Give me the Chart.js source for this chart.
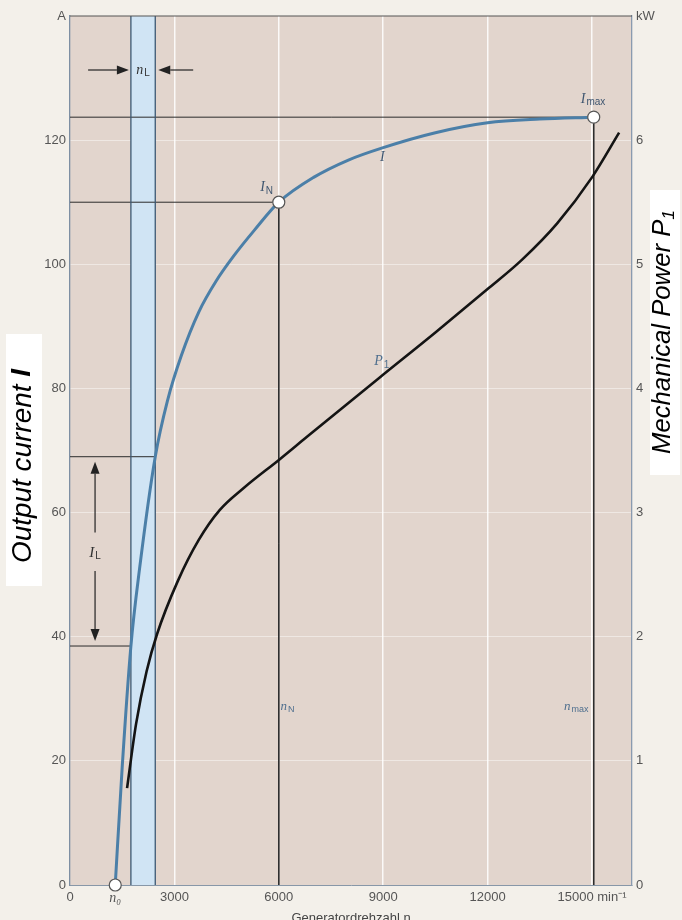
<!DOCTYPE html>
<html><head><meta charset="utf-8">
<script src="https://cdn.jsdelivr.net/npm/chart.js@4/dist/chart.umd.min.js"></script>
<style>
html,body{margin:0;padding:0;background:#f3f0ea;overflow:hidden;}
#wrap{width:682px;height:930px;position:relative;}
canvas{display:block;}
</style></head><body>
<div id="wrap"><canvas id="c" width="682" height="930"></canvas></div>
<script>
// ---- data ----
const xTickValues = [0, 1300, 3000, 6000, 9000, 12000, 15000];
const rpmI = [1300, 1500, 1750, 2000, 2450, 2800, 3200, 3700, 4200, 4700, 5300, 6000, 7000, 8000, 9000, 10500, 12000, 13500, 15050];
const currentA = [0, 19, 38.5, 51, 69, 78, 85.3, 92.3, 97.3, 101.3, 105.5, 110, 114, 116.8, 118.8, 121.2, 122.8, 123.4, 123.7];
const rpmP = [1640, 1900, 2200, 2500, 3100, 3700, 4300, 5000, 6030, 6810, 8910, 10500, 12000, 13000, 14000, 15000, 15780];
const powerKW = [0.78, 1.30, 1.72, 2.02, 2.45, 2.78, 3.02, 3.20, 3.43, 3.61, 4.09, 4.45, 4.80, 5.04, 5.33, 5.70, 6.06];
const bandRpm = [1750, 2450];          // n_L range
const idleCurrent = [38.5, 69];       // I_L range
const n0 = 1300;
const nominalPoint = [6000, 110];     // n_N, I_N
const maxPoint = [15050, 123.7];      // n_max, I_max

const xy = (xs, ys) => xs.map((x, i) => ({x, y: ys[i]}));

const refLine = (pts, color, w) => ({
  data: pts, borderColor: color, borderWidth: w, pointRadius: 0, tension: 0,
  fill: false, order: 5
});

const datasets = [
  { data: [{x: bandRpm[0], y: 140}, {x: bandRpm[1], y: 140}], fill: 'origin',
    backgroundColor: '#d0e4f4', borderWidth: 0, pointRadius: 0, order: 20 },
  refLine([{x: bandRpm[0], y: 0}, {x: bandRpm[0], y: 140}], '#3c5873', 1.3),
  refLine([{x: bandRpm[1], y: 0}, {x: bandRpm[1], y: 140}], '#3c5873', 1.3),
  refLine([{x: 0, y: idleCurrent[0]}, {x: bandRpm[0], y: idleCurrent[0]}], '#2b2b2b', 1),
  refLine([{x: 0, y: idleCurrent[1]}, {x: bandRpm[1], y: idleCurrent[1]}], '#2b2b2b', 1),
  refLine([{x: 0, y: nominalPoint[1]}, {x: nominalPoint[0], y: nominalPoint[1]}, {x: nominalPoint[0], y: 0}], '#2b2b2b', 1),
  refLine([{x: 0, y: maxPoint[1]}, {x: maxPoint[0], y: maxPoint[1]}, {x: maxPoint[0], y: 0}], '#2b2b2b', 1),
  { data: xy(rpmP, powerKW), yAxisID: 'y1', borderColor: '#141414', borderWidth: 2.6,
    pointRadius: 0, cubicInterpolationMode: 'monotone', fill: false, order: 2 },
  { data: xy(rpmI, currentA), borderColor: '#4b7fa8', borderWidth: 3,
    pointRadius: 0, cubicInterpolationMode: 'monotone', fill: false, order: 1 },
  { data: [{x: n0, y: 0}, {x: nominalPoint[0], y: nominalPoint[1]}, {x: maxPoint[0], y: maxPoint[1]}],
    showLine: false, pointRadius: 6, pointBackgroundColor: '#ffffff', pointBorderColor: '#555',
    pointBorderWidth: 1.2, clip: false, order: 0 }
];

const FS = '"Liberation Sans", Arial, sans-serif';
const SERIF = '"Liberation Serif", "DejaVu Serif", serif';

function label(ctx, x, y, main, sub, color, size) {
  ctx.save();
  ctx.fillStyle = color;
  ctx.textBaseline = 'middle';
  ctx.font = `italic ${size}px ${SERIF}`;
  const w1 = ctx.measureText(main).width;
  ctx.font = `${Math.round(size * 0.68)}px ${FS}`;
  const w2 = sub ? ctx.measureText(sub).width : 0;
  let sx = x - (w1 + w2 + 1) / 2;
  ctx.font = `italic ${size}px ${SERIF}`;
  ctx.textAlign = 'left';
  ctx.fillText(main, sx, y);
  if (sub) {
    ctx.font = `${Math.round(size * 0.68)}px ${FS}`;
    ctx.fillText(sub, sx + w1 + 1, y + size * 0.25);
  }
  ctx.restore();
}

function arrow(ctx, x1, y1, x2, y2) {
  const ang = Math.atan2(y2 - y1, x2 - x1);
  const L = 12, W = 4.5;
  ctx.save();
  ctx.strokeStyle = '#222'; ctx.fillStyle = '#222'; ctx.lineWidth = 1.2;
  ctx.beginPath(); ctx.moveTo(x1, y1);
  ctx.lineTo(x2 - Math.cos(ang) * L, y2 - Math.sin(ang) * L); ctx.stroke();
  ctx.beginPath(); ctx.moveTo(x2, y2);
  ctx.lineTo(x2 - Math.cos(ang) * L - Math.sin(ang) * W, y2 - Math.sin(ang) * L + Math.cos(ang) * W);
  ctx.lineTo(x2 - Math.cos(ang) * L + Math.sin(ang) * W, y2 - Math.sin(ang) * L - Math.cos(ang) * W);
  ctx.closePath(); ctx.fill();
  ctx.restore();
}

function sideTitle(ctx, cx, cy, parts, targetLen) {
  ctx.save();
  ctx.translate(cx, cy);
  ctx.rotate(-Math.PI / 2);
  ctx.fillStyle = '#000';
  ctx.textBaseline = 'middle';
  ctx.textAlign = 'left';
  let total = 0;
  const ws = parts.map(p => { ctx.font = p.font; const w = ctx.measureText(p.t).width; total += w; return w; });
  const k = targetLen / total;
  ctx.scale(k, 1);
  let sx = -total / 2;
  parts.forEach((p, i) => { ctx.font = p.font; ctx.fillText(p.t, sx, p.dy || 0); sx += ws[i]; });
  ctx.restore();
}

const bgPlugin = {
  id: 'bg',
  beforeDraw(chart) {
    const {ctx, chartArea: a} = chart;
    ctx.save();
    ctx.fillStyle = '#f3f0ea';
    ctx.fillRect(0, 0, chart.width, chart.height);
    ctx.fillStyle = '#e2d5cd';
    ctx.fillRect(a.left, a.top, a.right - a.left, a.bottom - a.top);
    ctx.restore();
  }
};

const annPlugin = {
  id: 'ann',
  afterDatasetsDraw(chart) {
    const {ctx, scales: {x, y}, chartArea: a} = chart;
    ctx.save();
    ctx.strokeStyle = '#555'; ctx.lineWidth = 1.2;
    ctx.beginPath(); ctx.moveTo(a.left, a.top); ctx.lineTo(a.right, a.top); ctx.stroke();
    ctx.restore();
    const ay = y.getPixelForValue(131.3);
    arrow(ctx, x.getPixelForValue(520), ay, x.getPixelForValue(bandRpm[0]) - 2, ay);
    arrow(ctx, x.getPixelForValue(3540), ay, x.getPixelForValue(bandRpm[1]) + 3, ay);
    label(ctx, x.getPixelForValue((bandRpm[0] + bandRpm[1]) / 2), ay, 'n', 'L', '#333', 14);
    const ax = x.getPixelForValue(720);
    arrow(ctx, ax, y.getPixelForValue(56.8), ax, y.getPixelForValue(idleCurrent[1]) + 5);
    arrow(ctx, ax, y.getPixelForValue(50.6), ax, y.getPixelForValue(idleCurrent[0]) - 5);
    label(ctx, ax, y.getPixelForValue(53.5), 'I', 'L', '#333', 15);
    const lc = '#4f6f8e';
    label(ctx, x.getPixelForValue(5650), y.getPixelForValue(112.4), 'I', 'N', '#3f5670', 14);
    label(ctx, x.getPixelForValue(8990), y.getPixelForValue(117.3), 'I', '', '#3f5670', 14);
    label(ctx, x.getPixelForValue(15030), y.getPixelForValue(126.6), 'I', 'max', '#3f5670', 14);
    label(ctx, x.getPixelForValue(8960), y.getPixelForValue(84.3), 'P', '1', lc, 14);
    label(ctx, x.getPixelForValue(6250), y.getPixelForValue(28.8), 'n', 'N', lc, 13);
    label(ctx, x.getPixelForValue(14550), y.getPixelForValue(28.8), 'n', 'max', lc, 13);
  },
  afterDraw(chart) {
    const {ctx} = chart;
    ctx.save();
    ctx.fillStyle = '#ffffff';
    ctx.fillRect(6, 334, 36, 252);
    ctx.fillRect(650, 190, 30, 285);
    ctx.restore();
    sideTitle(ctx, 23, 466, [
      {t: 'Output current ', font: `italic 27px ${FS}`},
      {t: 'I', font: `italic bold 27px ${FS}`}
    ], 194);
    sideTitle(ctx, 663, 332, [
      {t: 'Mechanical Power P', font: `italic 25px ${FS}`},
      {t: '1', font: `italic 17px ${FS}`, dy: 6}
    ], 244);
  }
};

const tickFont = {family: FS, size: 13};

new Chart(document.getElementById('c'), {
  type: 'line',
  data: {datasets},
  options: {
    responsive: false, animation: false, devicePixelRatio: 1,
    layout: {padding: {top: 16, left: 0, right: 0, bottom: 0}},
    plugins: {legend: {display: false}, tooltip: {enabled: false}},
    scales: {
      x: {
        type: 'linear', min: 0, max: 16150,
        afterBuildTicks: s => { s.ticks = xTickValues.map(v => ({value: v})); },
        afterFit: s => { s.height = 45; },
        ticks: {
          autoSkip: false, maxRotation: 0, padding: 5, color: '#555',
          font: c => (c.tick && c.tick.value === n0) ? {family: SERIF, style: 'italic', size: 14} : tickFont,
          callback: v => v === n0 ? 'n₀' : (v === 15000 ? '15000 min⁻¹' : String(v))
        },
        grid: {
          drawTicks: false, lineWidth: 1.5,
          color: c => (c.tick && (c.tick.value === 0 || c.tick.value === n0)) ? 'rgba(0,0,0,0)' : 'rgba(255,255,255,0.85)'
        },
        border: {display: true, color: '#8797a8', width: 1},
        title: {display: true, text: 'Generatordrehzahl n', color: '#444', font: {family: FS, size: 13}, padding: {top: 0, bottom: 4}}
      },
      y: {
        position: 'left', min: 0, max: 140,
        afterFit: s => { s.width = 70; },
        ticks: {stepSize: 20, padding: 4, color: '#555', font: tickFont, callback: v => v === 140 ? 'A' : String(v)},
        grid: {
          drawTicks: false, lineWidth: 1,
          color: c => (c.tick && c.tick.value > 0 && c.tick.value < 140) ? 'rgba(255,255,255,0.45)' : 'rgba(0,0,0,0)'
        },
        border: {color: '#7d8fa3', width: 1.3}
      },
      y1: {
        position: 'right', min: 0, max: 7,
        afterFit: s => { s.width = 50; },
        ticks: {stepSize: 1, padding: 4, color: '#555', font: tickFont, callback: v => v === 7 ? 'kW' : String(v)},
        grid: {display: false, drawTicks: false},
        border: {color: '#8a9bb0', width: 1.3}
      }
    }
  },
  plugins: [bgPlugin, annPlugin]
});
</script>
</body></html>
